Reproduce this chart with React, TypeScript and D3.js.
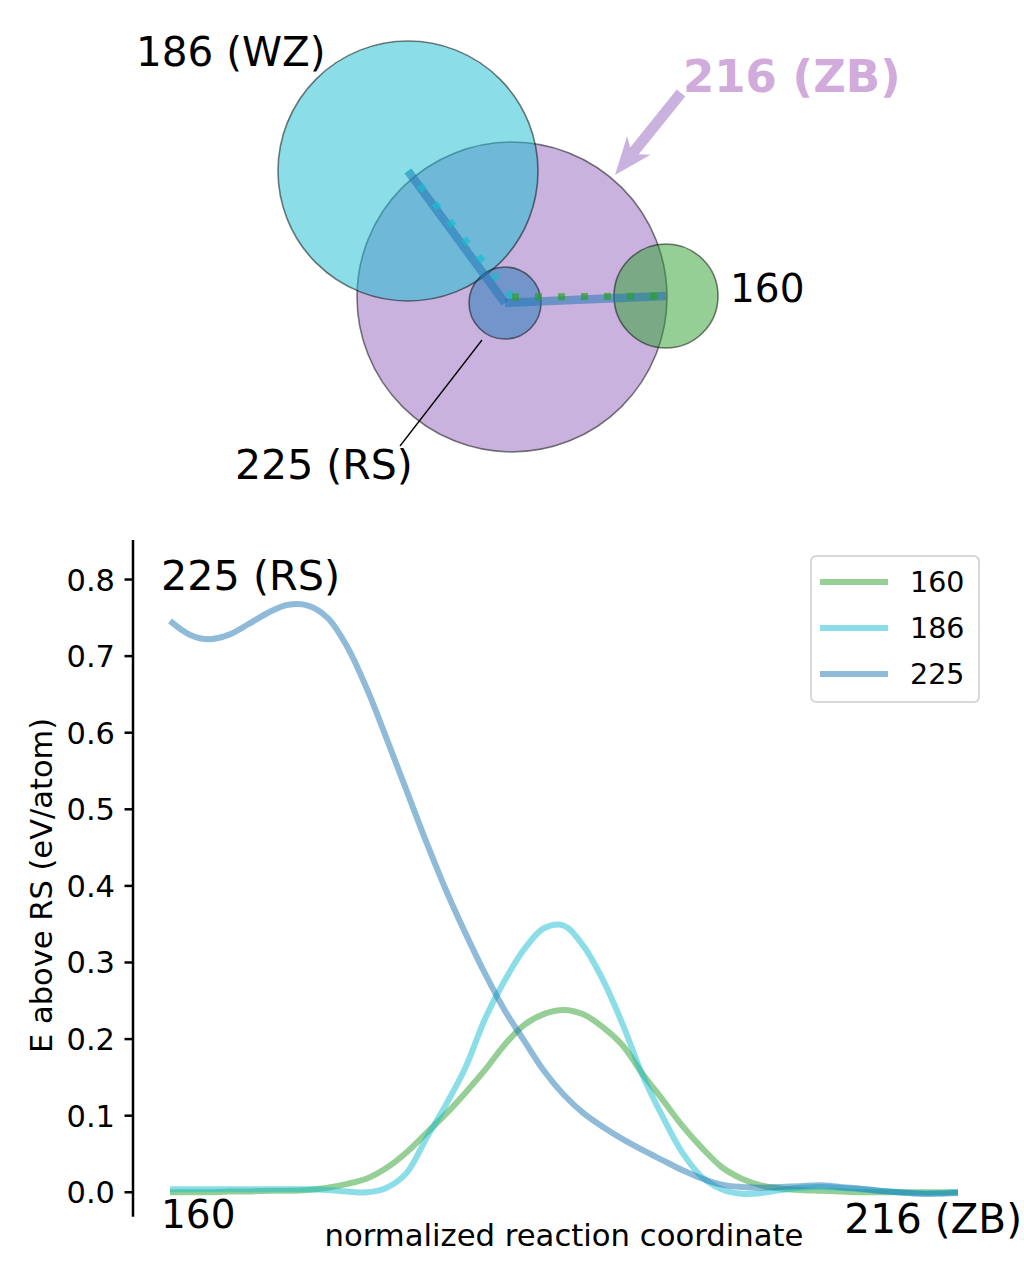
import * as d3 from "d3";

// ---- bottom panel data: energy along the normalized reaction coordinate ----
const coord = [
  0, 0.025, 0.05, 0.075, 0.1, 0.125, 0.15, 0.175, 0.2, 0.225, 0.25, 0.275, 0.3, 0.325,
  0.35, 0.375, 0.4, 0.425, 0.45, 0.475, 0.5, 0.525, 0.55, 0.575, 0.6, 0.625, 0.65,
  0.675, 0.7, 0.725, 0.75, 0.775, 0.8, 0.825, 0.85, 0.875, 0.9, 0.925, 0.95, 0.975, 1,
];

const e160 = [
  0.0, 0.0, 0.0, 0.001, 0.001, 0.002, 0.002, 0.003, 0.006, 0.011, 0.018, 0.032, 0.052,
  0.077, 0.102, 0.13, 0.16, 0.193, 0.219, 0.233, 0.238, 0.232, 0.215, 0.191, 0.154,
  0.121, 0.087, 0.058, 0.033, 0.018, 0.009, 0.005, 0.003, 0.002, 0.001, 0.0, 0.0, 0.0,
  0.0, 0.0, 0.0,
];

const e186 = [
  0.004, 0.004, 0.004, 0.004, 0.004, 0.004, 0.004, 0.004, 0.003, 0.001, 0.0, 0.006,
  0.025, 0.07, 0.114, 0.163, 0.227, 0.277, 0.318, 0.345, 0.348, 0.321, 0.276, 0.218,
  0.152, 0.099, 0.052, 0.02, 0.004, -0.002, -0.001, 0.003, 0.006, 0.007, 0.006, 0.004,
  0.002, 0.0, -0.001, -0.001, 0.0,
];

const e225 = [
  0.746, 0.728, 0.722, 0.728, 0.742, 0.757, 0.767, 0.766, 0.75, 0.712, 0.657, 0.592,
  0.525, 0.458, 0.395, 0.338, 0.285, 0.237, 0.197, 0.158, 0.127, 0.103, 0.085, 0.069,
  0.055, 0.042, 0.029, 0.018, 0.01, 0.007, 0.006, 0.007, 0.008, 0.009, 0.007, 0.005,
  0.002, 0.0, -0.002, -0.002, -0.001,
];

const seriesNames = ["160", "186", "225"];
const seriesColors = ["#2ca02c", "#17becf", "#1f77b4"];
const seriesValues = [e160, e186, e225];

const yTicks = [0, 0.1, 0.2, 0.3, 0.4, 0.5, 0.6, 0.7, 0.8];

// ---- top panel data: node layout (arbitrary layout units, y up) ----
const nodeNames = ["216", "186", "160", "225"];
const nodeX = [0.07, -0.97, 1.61, 0.0];
const nodeY = [0.06, 1.32, 0.07, 0.0];
const nodeSize = [1.55, 1.3, 0.52, 0.36];
const nodeColors = ["#9467bd", "#17becf", "#2ca02c", "#1f77b4"];

const solidEdges = [
  ["225", "186"],
  ["225", "160"],
];
const dottedEdges = [
  ["216", "186"],
  ["216", "160"],
];

const FONT = "DejaVu Sans, sans-serif";

export default function App() {
  const W = 1024;
  const H = 1279;

  // top network panel
  const lx = d3.scaleLinear().domain([0, 1]).range([505, 605]);
  const ly = d3.scaleLinear().domain([0, 1]).range([303, 203]);
  const idx = (n: string) => nodeNames.indexOf(n);
  const pos = (n: string) => [lx(nodeX[idx(n)]), ly(nodeY[idx(n)])];
  const colorOf = (n: string) => nodeColors[idx(n)];

  // arrow for the 216 (ZB) label
  const tail = [681, 93];
  const tip = [615, 175];
  const dx = tip[0] - tail[0];
  const dy = tip[1] - tail[1];
  const len = Math.hypot(dx, dy);
  const ux = dx / len;
  const uy = dy / len;
  const nx = -uy;
  const ny = ux;
  const shaftW = 5.5;
  const headL = 38;
  const notchL = 31;
  const headW = 15;
  const p = (along: number, side: number) =>
    `${tip[0] - ux * along + nx * side},${tip[1] - uy * along + ny * side}`;
  const arrowPts = [
    p(len, shaftW),
    p(notchL, shaftW),
    p(headL, headW),
    p(0, 0),
    p(headL, -headW),
    p(notchL, -shaftW),
    p(len, -shaftW),
  ].join(" ");

  // bottom line chart
  const x = d3.scaleLinear().domain([0, 1]).range([170, 958]);
  const y = d3.scaleLinear().domain([-0.0319, 0.8516]).range([1216.7, 540]);
  const line = d3
    .line<number>()
    .x((_, i) => x(coord[i]))
    .y((d) => y(d))
    .curve(d3.curveCatmullRom.alpha(0.5));
  const fmt = d3.format(".1f");
  const axisX = 133;

  return (
    <div style={{ position: "absolute", left: 0, top: 0 }}>
      <svg width={W} height={H} viewBox={`0 0 ${W} ${H}`} style={{ display: "block" }} fontFamily={FONT}>
        <rect width={W} height={H} fill="#ffffff" />

        {/* ---- network of structures ---- */}
        <g>
          {nodeNames.map((n, i) => (
            <circle
              key={n}
              cx={lx(nodeX[i])}
              cy={ly(nodeY[i])}
              r={lx(nodeSize[i]) - lx(0)}
              fill={nodeColors[i]}
              fillOpacity={0.5}
              stroke="#000"
              strokeOpacity={0.5}
              strokeWidth={1.6}
            />
          ))}
          {solidEdges.map(([s, t]) => {
            const [x1, y1] = pos(s);
            const [x2, y2] = pos(t);
            return (
              <line
                key={`s${s}${t}`}
                x1={x1}
                y1={y1}
                x2={x2}
                y2={y2}
                stroke={colorOf(s)}
                strokeOpacity={0.55}
                strokeWidth={8.5}
              />
            );
          })}
          {dottedEdges.map(([s, t]) => {
            const [x1, y1] = pos(s);
            const [x2, y2] = pos(t);
            return (
              <line
                key={`d${s}${t}`}
                x1={x1}
                y1={y1}
                x2={x2}
                y2={y2}
                stroke={colorOf(t)}
                strokeOpacity={0.7}
                strokeWidth={7}
                strokeDasharray="7,16"
              />
            );
          })}
        </g>

        <text x={136} y={66} fontSize={40.5} fill="#000">186 (WZ)</text>
        <text x={730} y={302} fontSize={39} fill="#000">160</text>
        <line x1={482} y1={340} x2={400} y2={446} stroke="#000" strokeWidth={1.3} />
        <text x={235} y={479} fontSize={41} fill="#000">225 (RS)</text>
        <polygon points={arrowPts} fill="#9467bd" fillOpacity={0.5} />
        <text x={683} y={92} fontSize={45} fontWeight="bold" fill="#d0abdc">216 (ZB)</text>

        {/* ---- energy profile ---- */}
        <g>
          <line x1={axisX} y1={540} x2={axisX} y2={1216.7} stroke="#000" strokeWidth={2.5} />
          {yTicks.map((t) => (
            <g key={t} transform={`translate(0,${y(t)})`}>
              <line x1={axisX - 8.5} x2={axisX} stroke="#000" strokeWidth={2.5} />
              <text x={axisX - 18} dy="0.36em" textAnchor="end" fontSize={30.5} fill="#000">
                {fmt(t)}
              </text>
            </g>
          ))}
          <text
            transform={`translate(52,${y(0.4) - 0.5}) rotate(-90)`}
            textAnchor="middle"
            fontSize={30.5}
            fill="#000"
          >
            E above RS (eV/atom)
          </text>
          <text x={564} y={1246} textAnchor="middle" fontSize={30.7} fill="#000">
            normalized reaction coordinate
          </text>

          {seriesValues.map((vals, i) => (
            <path
              key={seriesNames[i]}
              d={line(vals) ?? ""}
              fill="none"
              stroke={seriesColors[i]}
              strokeOpacity={0.5}
              strokeWidth={6}
            />
          ))}

          <text x={161} y={590} fontSize={41.3} fill="#000">225 (RS)</text>
          <text x={161} y={1228} fontSize={39} fill="#000">160</text>
          <text x={1022} y={1233} textAnchor="end" fontSize={40.6} fill="#000">216 (ZB)</text>

          {/* legend */}
          <rect x={811} y={556} width={168} height={146} rx={5} fill="#fff" fillOpacity={0.8} stroke="#cccccc" strokeWidth={1.5} />
          {seriesNames.map((n, i) => (
            <g key={n} transform={`translate(0,${582 + i * 46})`}>
              <line x1={820} x2={888} stroke={seriesColors[i]} strokeOpacity={0.5} strokeWidth={6} />
              <text x={910} dy="0.36em" fontSize={28.5} fill="#000">{n}</text>
            </g>
          ))}
        </g>
      </svg>
    </div>
  );
}
